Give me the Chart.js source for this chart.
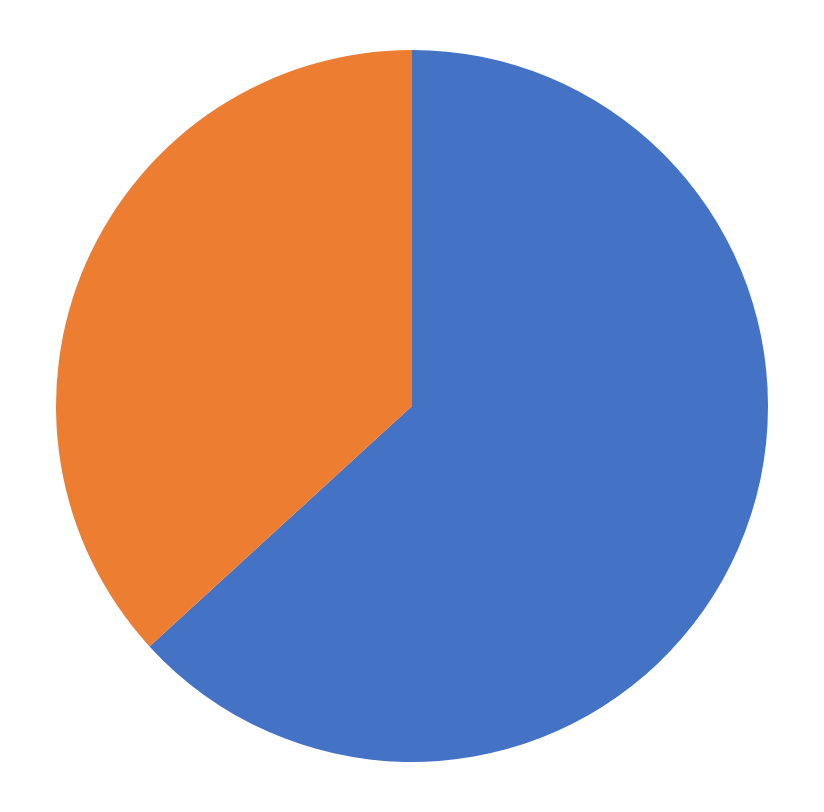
<!DOCTYPE html>
<html>
<head>
<meta charset="utf-8">
<script src="https://cdn.jsdelivr.net/npm/chart.js@4"></script>
<style>
html,body{margin:0;padding:0;background:#fff;}
#wrap{width:824px;height:812px;}
</style>
</head>
<body>
<div id="wrap"><canvas id="c" width="824" height="812"></canvas></div>
<script>
const categories = ["A", "B"];
const values = [63.2, 36.8];
const colors = ["#4472C4", "#ED7D31"];

new Chart(document.getElementById("c"), {
  type: "pie",
  data: {
    labels: categories,
    datasets: [{
      data: values,
      backgroundColor: colors,
      borderWidth: 0
    }]
  },
  options: {
    responsive: false,
    devicePixelRatio: 1,
    animation: false,
    layout: { padding: 50 },
    plugins: { legend: { display: false }, tooltip: { enabled: false } }
  }
});
</script>
</body>
</html>
